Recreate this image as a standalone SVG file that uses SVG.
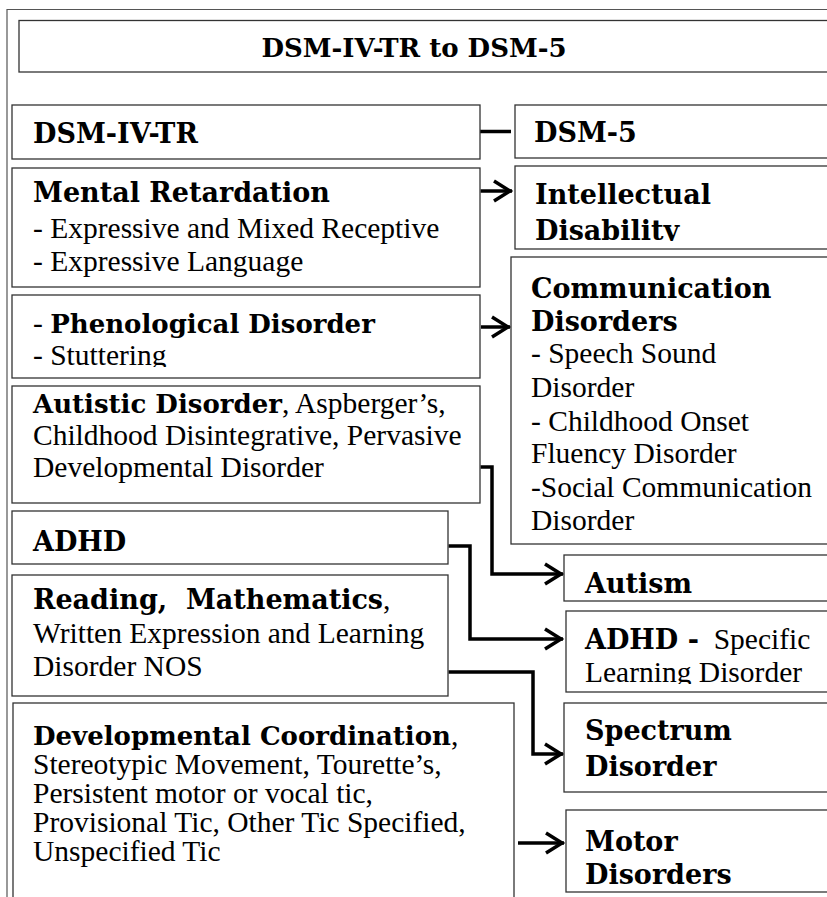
<svg xmlns="http://www.w3.org/2000/svg" width="827" height="897" viewBox="0 0 827 897">
<defs>
<style>
.box{fill:#fff;stroke:#333;stroke-width:1.3}
.frame{fill:none;stroke:#555;stroke-width:1.2}
.b{font-family:"DejaVu Serif",serif;font-weight:bold;font-size:27px;fill:#000}
.s{font-size:26px}
.r{font-family:"Liberation Serif","Times New Roman",serif;font-size:29.5px;font-weight:normal;fill:#000}
.con{fill:none;stroke:#000;stroke-width:3.5;marker-end:url(#ah)}
.ln{fill:none;stroke:#000;stroke-width:3.5}
</style>
<marker id="ah" markerUnits="userSpaceOnUse" markerWidth="30" markerHeight="30" viewBox="-22 -15 30 30" refX="0" refY="0" orient="auto">
<path d="M-18,-10 L-2,0 L-18,10" fill="none" stroke="#000" stroke-width="3.5"/>
</marker>
<clipPath id="cDis"><rect x="515" y="166" width="320" height="75"/></clipPath>
<clipPath id="cStu"><rect x="13" y="295" width="470" height="72"/></clipPath>
<clipPath id="cLrn"><rect x="566" y="611" width="270" height="73"/></clipPath>
</defs>
<path class="frame" d="M7,897 V9.5 H830"/>
<g id="title">
<rect class="box" x="19" y="20.5" width="815" height="51.5"/>
<text class="b s" x="414" y="57" text-anchor="middle">DSM-IV-TR to DSM-5</text>
</g>
<g id="connectors">
<path class="ln" d="M480,131.5 H511"/>
<path class="con" d="M480.5,191 H512"/>
<path class="con" d="M481,327 H510"/>
<path class="con" d="M480.5,467 H492 V574 H563"/>
<path class="con" d="M448.5,546 H470 V639 H563"/>
<path class="con" d="M448.5,672 H533 V754 H563"/>
<path class="con" d="M518,843 H564"/>
</g>
<g id="n-dsm4">
<rect class="box" x="12" y="105" width="468" height="54"/>
<text class="b" x="33" y="143">DSM-IV-TR</text>
</g>
<g id="n-dsm5">
<rect class="box" x="515" y="105" width="320" height="53"/>
<text class="b" x="534" y="142">DSM-5</text>
</g>
<g id="n-mental">
<rect class="box" x="12" y="168" width="468" height="119"/>
<text class="b" x="33" y="202">Mental Retardation</text>
<text class="r" x="33" y="238">- Expressive and Mixed Receptive</text>
<text class="r" x="33" y="271">- Expressive Language</text>
</g>
<g id="n-intellectual">
<rect class="box" x="515" y="166" width="320" height="83"/>
<g clip-path="url(#cDis)">
<text class="b" x="535" y="204">Intellectual</text>
<text class="b" x="535" y="240">Disability</text>
</g>
</g>
<g id="n-phenological">
<rect class="box" x="12" y="295" width="468" height="83"/>
<g clip-path="url(#cStu)">
<text class="r" x="33" y="333">- <tspan class="b s">Phenological Disorder</tspan></text>
<text class="r" x="33" y="365">- Stuttering</text>
</g>
</g>
<g id="n-communication">
<rect class="box" x="511" y="257" width="325" height="287"/>
<text class="b" x="531" y="298">Communication</text>
<text class="b" x="531" y="331">Disorders</text>
<text class="r" x="531" y="363">- Speech Sound</text>
<text class="r" x="531" y="397">Disorder</text>
<text class="r" x="531" y="431">- Childhood Onset</text>
<text class="r" x="531" y="463">Fluency Disorder</text>
<text class="r" x="531" y="497">-Social Communication</text>
<text class="r" x="531" y="530">Disorder</text>
</g>
<g id="n-autistic">
<rect class="box" x="12" y="386" width="468" height="117"/>
<text class="r" x="33" y="413"><tspan class="b s">Autistic Disorder</tspan>, Aspberger’s,</text>
<text class="r" x="33" y="445">Childhood Disintegrative, Pervasive</text>
<text class="r" x="33" y="477">Developmental Disorder</text>
</g>
<g id="n-adhd">
<rect class="box" x="12" y="511" width="436" height="53"/>
<text class="b" x="33" y="551">ADHD</text>
</g>
<g id="n-autism">
<rect class="box" x="564" y="555" width="270" height="46"/>
<text class="b" x="585" y="593">Autism</text>
</g>
<g id="n-reading">
<rect class="box" x="12" y="575" width="436" height="121"/>
<text class="r" x="33" y="609" xml:space="preserve"><tspan class="b">Reading,  Mathematics</tspan>,</text>
<text class="r" x="33" y="643">Written Expression and Learning</text>
<text class="r" x="33" y="676">Disorder NOS</text>
</g>
<g id="n-adhd-sld">
<rect class="box" x="566" y="611" width="270" height="81"/>
<g clip-path="url(#cLrn)">
<text class="r" x="585" y="649" xml:space="preserve"><tspan class="b">ADHD -</tspan>  Specific</text>
<text class="r" x="585" y="682">Learning Disorder</text>
</g>
</g>
<g id="n-developmental">
<rect class="box" x="13" y="703" width="501" height="200"/>
<text class="r" x="33" y="745"><tspan class="b s">Developmental Coordination</tspan>,</text>
<text class="r" x="33" y="774">Stereotypic Movement, Tourette’s,</text>
<text class="r" x="33" y="803">Persistent motor or vocal tic,</text>
<text class="r" x="33" y="832">Provisional Tic, Other Tic Specified,</text>
<text class="r" x="33" y="861">Unspecified Tic</text>
</g>
<g id="n-spectrum">
<rect class="box" x="564" y="703" width="270" height="89"/>
<text class="b" x="585" y="740">Spectrum</text>
<text class="b" x="585" y="776">Disorder</text>
</g>
<g id="n-motor">
<rect class="box" x="566" y="810" width="270" height="82"/>
<text class="b" x="585" y="851">Motor</text>
<text class="b" x="585" y="884">Disorders</text>
</g>
</svg>
